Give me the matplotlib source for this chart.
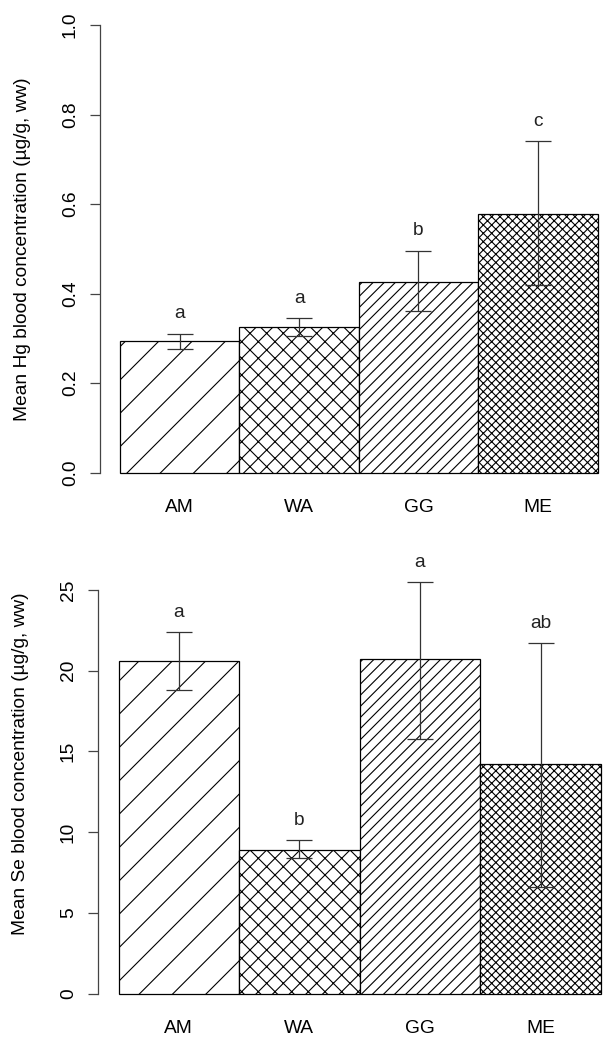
import matplotlib
matplotlib.use("Agg")
import matplotlib.pyplot as plt

plt.rcParams['font.family'] = ['Liberation Sans', 'DejaVu Sans']
plt.rcParams['hatch.linewidth'] = 0.4
plt.rcParams['hatch.color'] = 'black'

sites = ['AM', 'WA', 'GG', 'ME']
hatches = ['//', 'xxxx', '//////', 'xxxxxxxx']

# mercury, ug/g ww
hg_mean = [0.294, 0.326, 0.427, 0.578]
hg_low = [0.277, 0.305, 0.362, 0.419]
hg_high = [0.310, 0.345, 0.496, 0.740]
hg_groups = ['a', 'a', 'b', 'c']

# selenium, ug/g ww
se_mean = [20.6, 8.9, 20.7, 14.2]
se_low = [18.8, 8.4, 15.8, 6.6]
se_high = [22.4, 9.5, 25.5, 21.7]
se_groups = ['a', 'b', 'a', 'ab']

W, H, DPI = 605, 1051, 200
fig = plt.figure(figsize=(W / DPI, H / DPI), dpi=DPI)
fig.patch.set_facecolor('white')

LW = 0.45
FS = 6.9


def panel(rect, xlim, ylim, top, ticks, tick_labels, means, low, high, groups,
          ylabel, off):
    ax = fig.add_axes(rect)
    ax.patch.set_visible(False)
    x = list(range(len(means)))
    ax.bar([i + 0.5 for i in x], means, width=1.0, color='white',
           edgecolor='black', linewidth=LW, hatch=hatches, zorder=2)
    err = [[m - l for m, l in zip(means, low)], [h - m for m, h in zip(means, high)]]
    ax.errorbar([i + 0.5 for i in x], means, yerr=err, fmt='none',
                ecolor='#333333', elinewidth=LW, capsize=4.6, capthick=LW,
                zorder=3)
    for i, g in enumerate(groups):
        ax.text(i + 0.5, high[i] + off, g, ha='center', va='center',
                fontsize=FS, color='#222222')
    ax.set_xlim(*xlim)
    ax.set_ylim(*ylim)
    for s in ['top', 'right', 'bottom']:
        ax.spines[s].set_visible(False)
    ax.spines['left'].set_bounds(0, top)
    ax.spines['left'].set_linewidth(LW)
    ax.spines['left'].set_color('#444444')
    ax.set_yticks(ticks)
    ax.set_yticklabels(tick_labels, rotation=90, va='center', fontsize=FS)
    ax.tick_params(axis='y', length=3.6, width=LW, color='#444444', pad=4.0)
    ax.set_xticks([i + 0.5 for i in x])
    ax.set_xticklabels(sites, fontsize=FS)
    ax.tick_params(axis='x', length=0, pad=3.0)
    ax.set_ylabel(ylabel, fontsize=FS)
    ax.yaxis.set_label_coords(-0.137, 0.5)
    return ax


panel([100 / W, (H - 490.6) / H, (W - 100) / W, 483.5 / H],
      (-0.1675, 4.062), (-0.04, 1.04), 1.0,
      [0, 0.2, 0.4, 0.6, 0.8, 1.0], ['0.0', '0.2', '0.4', '0.6', '0.8', '1.0'],
      hg_mean, hg_low, hg_high, hg_groups,
      'Mean Hg blood concentration (µg/g, ww)', 0.045)

panel([98 / W, (H - 1012.1) / H, (W - 98) / W, 497.1 / H],
      (-0.17, 4.034), (-1.14, 29.64), 25,
      [0, 5, 10, 15, 20, 25], ['0', '5', '10', '15', '20', '25'],
      se_mean, se_low, se_high, se_groups,
      'Mean Se blood concentration (µg/g, ww)', 1.2)

fig.savefig('out.png', dpi=DPI)
